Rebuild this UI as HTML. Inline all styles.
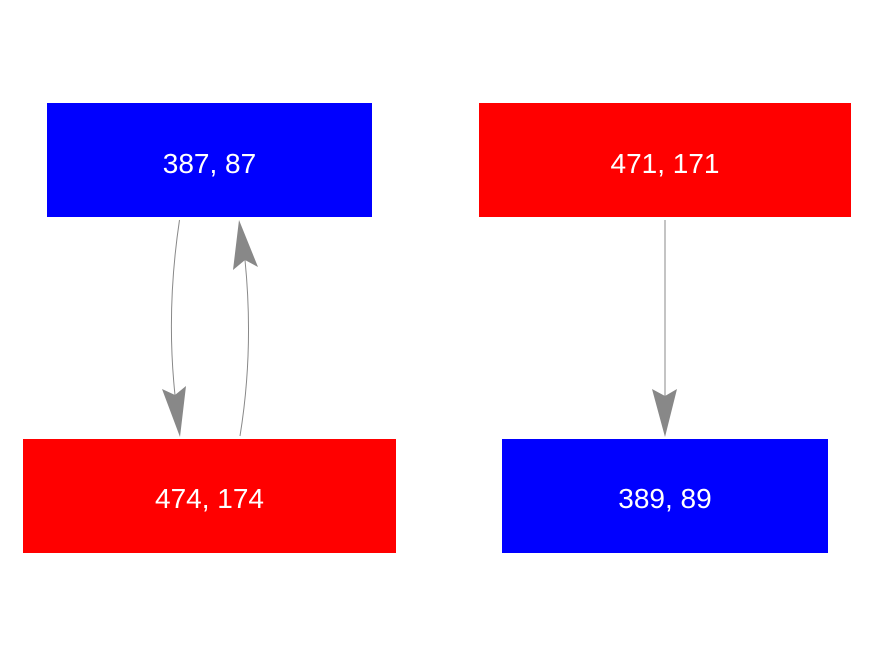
<!DOCTYPE html>
<html><head><style>
body{margin:0;background:#fff;width:875px;height:656px;overflow:hidden}
svg{display:block}
text{font-family:"Liberation Sans",sans-serif;font-size:28px;fill:#fff}
</style></head><body>
<svg width="875" height="656" viewBox="0 0 875 656">
<rect x="47" y="103" width="325" height="114" fill="#0000ff"/>
<rect x="479" y="103" width="372" height="114" fill="#ff0000"/>
<rect x="23" y="439" width="373" height="114" fill="#ff0000"/>
<rect x="502" y="439" width="326" height="114" fill="#0000ff"/>
<text x="209.5" y="173" text-anchor="middle">387, 87</text>
<text x="665" y="173" text-anchor="middle">471, 171</text>
<text x="209.5" y="508" text-anchor="middle">474, 174</text>
<text x="665" y="508" text-anchor="middle">389, 89</text>
<g stroke="#888" stroke-width="1" fill="none">
<path d="M179.5,220 Q166,310 175,395"/>
<path d="M240,436 Q254,350 245,260"/>
<path d="M665,220 L665,396"/>
</g>
<g fill="#888">
<polygon points="162,389 175,395 186,386 180,437"/>
<polygon points="233,270 245,260 258,267 239,220"/>
<polygon points="652,389 665,396 677,389 665,437"/>
</g>
</svg>
</body></html>
